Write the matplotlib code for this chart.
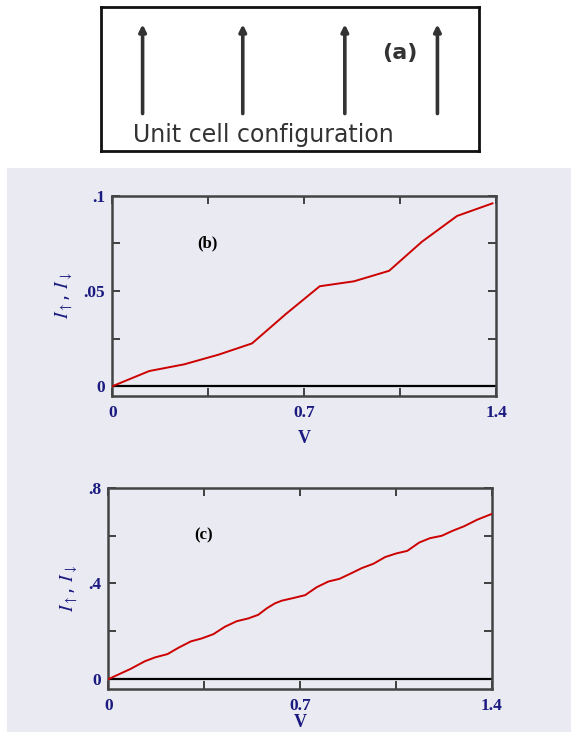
import numpy as np
import matplotlib.pyplot as plt
from matplotlib.patches import Rectangle

# panel (b): spin current vs bias, ordered unit cell
v_b = [0.0, 0.135, 0.262, 0.388, 0.51, 0.634, 0.757, 0.882, 1.01, 1.13, 1.258, 1.387]
i_b = [0.0, 0.0080, 0.0115, 0.0166, 0.0225, 0.038, 0.0525, 0.0551, 0.0606, 0.0759, 0.0894, 0.096]

# panel (c)
v_c = [0.0, 0.080, 0.134, 0.171, 0.217, 0.256, 0.302, 0.341, 0.384, 0.426, 0.469, 0.512,
       0.548, 0.579, 0.609, 0.634, 0.676, 0.719, 0.761, 0.804, 0.844, 0.883, 0.926, 0.968,
       1.011, 1.051, 1.092, 1.136, 1.175, 1.218, 1.258, 1.300, 1.347, 1.4]
i_c = [0.0, 0.042, 0.075, 0.091, 0.105, 0.131, 0.158, 0.170, 0.188, 0.219, 0.242, 0.254,
       0.269, 0.296, 0.317, 0.328, 0.339, 0.351, 0.384, 0.408, 0.419, 0.440, 0.464, 0.482,
       0.510, 0.525, 0.536, 0.571, 0.589, 0.599, 0.620, 0.639, 0.666, 0.690]

spins = ['up', 'up', 'up', 'up']
spin_x = [0.11, 0.375, 0.645, 0.89]   # fraction of box width

navy = '#1a1a80'
bg = '#eaeaf2'
plt.rcParams['mathtext.fontset'] = 'stix'

fig = plt.figure(figsize=(5.71, 7.32), dpi=100)
fig.patches.append(Rectangle((0.0128, 0), 1, 0.7705, transform=fig.transFigure,
                             facecolor=bg, edgecolor='none', zorder=-5))

# (a) unit cell sketch
axa = fig.add_axes([0.1769, 0.7937, 0.662, 0.1967])
axa.set_xlim(0, 1)
axa.set_ylim(0, 1)
axa.set_xticks([])
axa.set_yticks([])
for s in axa.spines.values():
    s.set_linewidth(2)
    s.set_color('#111111')
for x, s in zip(spin_x, spins):
    y0, y1 = (0.26, 0.88) if s == 'up' else (0.88, 0.26)
    axa.annotate('', xy=(x, y1), xytext=(x, y0),
                 arrowprops=dict(arrowstyle='-|>', lw=2.6, color='#333333',
                                 mutation_scale=10, shrinkA=0, shrinkB=0))
axa.text(0.79, 0.68, '(a)', fontsize=16, fontweight='bold', color='#333333',
         ha='center', va='center')
axa.text(0.085, 0.11, 'Unit cell configuration', fontsize=17, color='#333333',
         ha='left', va='center')


def panel(rect, v, i, ymax, yticks, ylabels, tag, tagpos, xpad):
    ax = fig.add_axes(rect)
    ax.set_facecolor(bg)
    ax.plot(v, i, color='#cc0000', lw=1.4, zorder=3)
    ax.axhline(0, color='black', lw=1.6, zorder=2)
    ax.set_xlim(0, 1.4)
    ax.set_ylim(-ymax * 0.0495, ymax)
    ax.set_xticks([0, 0.35, 0.7, 1.05, 1.4])
    ax.set_xticklabels(['0', '', '0.7', '', '1.4'])
    ax.set_yticks(yticks)
    ax.set_yticklabels(ylabels)
    ax.tick_params(direction='in', length=6, width=1.3, color='#333333',
                   top=True, right=True, labelsize=12.5, labelcolor=navy)
    ax.tick_params(axis='x', pad=7)
    ax.tick_params(axis='y', pad=5)
    for lab in ax.get_xticklabels() + ax.get_yticklabels():
        lab.set_fontfamily('Liberation Serif')
        lab.set_fontweight('bold')
    for s in ax.spines.values():
        s.set_linewidth(1.8)
        s.set_color('#444444')
    ax.set_xlabel('V', fontsize=13, fontweight='bold', family='Liberation Serif',
                  color=navy, labelpad=xpad)
    ax.set_ylabel(r'$I_{\uparrow}$, $I_{\downarrow}$', fontsize=14, color=navy,
                  labelpad=6)
    ax.text(tagpos[0], tagpos[1], tag, fontsize=12, fontweight='bold',
            family='Liberation Serif', ha='center', va='center')
    return ax


panel([0.1965, 0.4594, 0.6722, 0.2732], v_b, i_b, 0.1,
      [0, 0.025, 0.05, 0.075, 0.1], ['0', '', '.05', '', '.1'], '(b)', (0.348, 0.0748), 6)
panel([0.1895, 0.0592, 0.6715, 0.2746], v_c, i_c, 0.8,
      [0, 0.2, 0.4, 0.6, 0.8], ['0', '', '.4', '', '.8'], '(c)', (0.347, 0.599), 0)

fig.savefig('out.png', dpi=100, facecolor='white')
